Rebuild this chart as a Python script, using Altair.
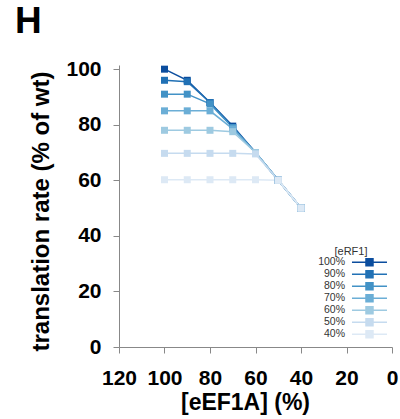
import altair as alt
import pandas as pd

eef1a = [100, 90, 80, 70, 60, 50, 40]
series_names = ["100%", "90%", "80%", "70%", "60%", "50%", "40%"]
s100 = [100, 96, 88, 79.5, 70, 60, 50]
s90 = [96, 95.5, 88, 79, 70, 60, 50]
s80 = [91, 91, 87.5, 79, 70, 60, 50]
s70 = [85, 85, 85, 78.5, 70, 60, 50]
s60 = [78, 78, 78, 77.5, 70, 60, 50]
s50 = [69.7, 69.7, 69.7, 69.7, 69.5, 60, 50]
s40 = [60.2, 60.2, 60.2, 60.2, 60.2, 60, 50]
colors = ["#0b4d9e", "#2171b5", "#4292c6", "#6baed6", "#9ecae1", "#c6dbef", "#dde9f5"]

rows = []
for i, (name, vals) in enumerate(zip(series_names, [s100, s90, s80, s70, s60, s50, s40])):
    for x, y in zip(eef1a, vals):
        rows.append({"eEF1A": x, "rate": y, "eRF1": name, "order": i})
df = pd.DataFrame(rows)

FONT = "Liberation Sans"

color = alt.Color(
    "eRF1:N",
    scale=alt.Scale(domain=series_names, range=colors),
    sort=series_names,
    legend=alt.Legend(
        title="\u00a0\u00a0[eRF1]",
        orient="none",
        legendX=215.5,
        legendY=181,
        symbolType="M3.06,0H11.81M6.56,-0.875H8.31V0.875H6.56Z",
        symbolSize=64,
        symbolStrokeWidth=1.5,
        symbolOpacity=1,
        labelAlign="right",
        labelOffset=0,
        labelFont=FONT,
        labelFontSize=10.5,
        labelColor="#333333",
        titleFont=FONT,
        titleFontSize=11,
        titleFontWeight="normal",
        titleColor="#333333",
        titleAnchor="start",
        titleAlign="left",
        rowPadding={"expr": "-2.3"},
        titlePadding=0,
    ),
)

x = alt.X(
    "eEF1A:Q",
    scale=alt.Scale(domain=[120, 0], nice=False),
    axis=alt.Axis(
        values=[120, 100, 80, 60, 40, 20, 0],
        labelOverlap=False,
        labelFlush=False,
        title="[eEF1A] (%)",
        titleX=126,
        titleY=62,
        titleBaseline="alphabetic",
        titleAnchor="start",
        titleAlign="center",
    ),
)
y = alt.Y(
    "rate:Q",
    scale=alt.Scale(domain=[0, 101.5], nice=False),
    axis=alt.Axis(
        values=[0, 20, 40, 60, 80, 100],
        labelOverlap=False,
        title="translation rate (% of wt)",
        titleX=-71,
        titleY=146,
        titleFontSize=24,
        titleBaseline="alphabetic",
        titleAlign="center",
        titleAngle=-90,
    ),
)

base = alt.Chart(df)
lines = base.mark_line(strokeWidth=1.5).encode(x=x, y=y, color=color, order="eEF1A:Q")
points = base.mark_square(size=49, opacity=1, filled=True).encode(x=x, y=y, color=color)

chart = (
    alt.layer(lines, points)
    .properties(
        width=273,
        height=282,
        autosize=alt.AutoSizeParams(type="none"),
        padding={"left": 119, "top": 65, "right": 8, "bottom": 72},
        title=alt.TitleParams(
            text="H",
            anchor="start",
            frame="group",
            dx=-104,
            dy=30,
            font=FONT,
            fontSize=37,
            fontWeight="bold",
            color="#000000",
            baseline="alphabetic",
            offset=18,
        ),
    )
    .configure_view(stroke=None)
    .configure_axis(
        domainColor="#888888",
        tickColor="#888888",
        tickSize=6,
        grid=False,
        labelFont=FONT,
        labelFontSize=21,
        labelFontWeight="bold",
        labelColor="#000000",
        labelPadding=12,
        titleFont=FONT,
        titleFontSize=23,
        titleFontWeight="bold",
        titleColor="#000000",
    )
    .configure_axisX(labelPadding=14)
)

chart.save("out.html", embed_options={"renderer": "svg", "actions": False})
